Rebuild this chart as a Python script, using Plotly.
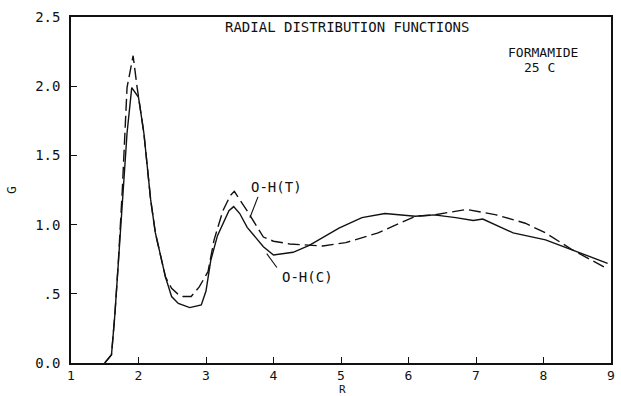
import plotly.graph_objects as go

# O-H(C) radial distribution function (solid)
r_c = [1.50, 1.60, 1.65, 1.70, 1.76, 1.83, 1.90, 2.00, 2.08, 2.18, 2.25, 2.40, 2.49, 2.59,
       2.76, 2.93, 3.00, 3.07, 3.17, 3.27, 3.34, 3.41, 3.50, 3.61, 3.75, 3.85, 4.00, 4.29,
       4.53, 4.75, 4.97, 5.31, 5.65, 6.10, 6.38, 6.70, 6.96, 7.10, 7.55, 8.03, 8.52, 8.95]
g_c = [0.00, 0.06, 0.35, 0.72, 1.20, 1.66, 1.99, 1.92, 1.66, 1.18, 0.94, 0.62, 0.48, 0.43,
       0.40, 0.42, 0.52, 0.74, 0.92, 1.03, 1.10, 1.13, 1.08, 0.98, 0.90, 0.84, 0.78, 0.80,
       0.85, 0.91, 0.975, 1.05, 1.08, 1.06, 1.07, 1.05, 1.03, 1.04, 0.94, 0.89, 0.80, 0.72]

# O-H(T) radial distribution function (dashed)
r_t = [1.50, 1.60, 1.65, 1.70, 1.76, 1.83, 1.92, 1.98, 2.08, 2.18, 2.25, 2.40, 2.49, 2.58,
       2.66, 2.78, 2.90, 3.03, 3.12, 3.25, 3.36, 3.42, 3.50, 3.61, 3.85, 4.00, 4.24, 4.73,
       5.07, 5.55, 6.10, 6.38, 6.86, 7.10, 7.30, 7.73, 8.03, 8.42, 8.95]
g_t = [0.00, 0.06, 0.35, 0.72, 1.25, 1.99, 2.22, 1.99, 1.66, 1.18, 0.94, 0.62, 0.54, 0.50,
       0.48, 0.48, 0.55, 0.66, 0.89, 1.10, 1.21, 1.24, 1.18, 1.10, 0.91, 0.88, 0.86, 0.845,
       0.87, 0.94, 1.06, 1.07, 1.11, 1.09, 1.07, 1.01, 0.94, 0.82, 0.68]

x_ticks = [1, 2, 3, 4, 5, 6, 7, 8, 9]
y_ticks = [0.0, 0.5, 1.0, 1.5, 2.0, 2.5]
y_tick_text = ["0.0", ".5", "1.0", "1.5", "2.0", "2.5"]

FONT = "DejaVu Sans Mono"
INK = "#111111"

fig = go.Figure()
fig.add_trace(go.Scatter(x=r_c, y=g_c, mode="lines", name="O-H(C)",
                         line=dict(color=INK, width=1.4)))
fig.add_trace(go.Scatter(x=r_t, y=g_t, mode="lines", name="O-H(T)",
                         line=dict(color=INK, width=1.4, dash="12px,5px")))

# leader lines from curve labels to their curves
fig.add_shape(type="line", x0=3.77, y0=1.20, x1=3.65, y1=1.05,
              line=dict(color=INK, width=1.1))
fig.add_shape(type="line", x0=4.05, y0=0.69, x1=3.90, y1=0.79,
              line=dict(color=INK, width=1.1))

annots = [
    dict(text="RADIAL DISTRIBUTION FUNCTIONS", x=0.511, y=0.971, xref="paper", yref="paper",
         font=dict(size=14)),
    dict(text="FORMAMIDE", x=0.874, y=0.896, xref="paper", yref="paper", font=dict(size=13)),
    dict(text="25 C", x=0.867, y=0.853, xref="paper", yref="paper", font=dict(size=13)),
    dict(text="O-H(T)", x=4.05, y=1.27, xref="x", yref="y", font=dict(size=14)),
    dict(text="O-H(C)", x=4.50, y=0.62, xref="x", yref="y", font=dict(size=14)),
    dict(text="G", x=-0.111, y=0.5, xref="paper", yref="paper", textangle=-90,
         font=dict(size=13)),
    dict(text="R", x=0.502, y=-0.078, xref="paper", yref="paper", font=dict(size=11)),
]
for a in annots:
    a.setdefault("showarrow", False)
    a["xanchor"] = "center"
    a["yanchor"] = "middle"
    a["font"].update(family=FONT, color=INK)
    fig.add_annotation(**a)

axis_common = dict(showgrid=False, zeroline=False, showline=True, linecolor=INK,
                   linewidth=1.5, mirror=True, ticks="inside", ticklen=6, tickwidth=1.2,
                   tickcolor=INK)
fig.update_xaxes(range=[1, 9], tickvals=x_ticks,
                 tickfont=dict(family=FONT, size=13, color=INK), **axis_common)
fig.update_yaxes(range=[0, 2.5], tickvals=y_ticks, ticktext=y_tick_text,
                 ticklabelstandoff=6, tickfont=dict(family=FONT, size=14, color=INK),
                 **axis_common)

fig.update_layout(width=621, height=396, showlegend=False,
                  margin=dict(l=71, r=6, t=17, b=33),
                  paper_bgcolor="white", plot_bgcolor="white")

fig.write_html("out.html")
